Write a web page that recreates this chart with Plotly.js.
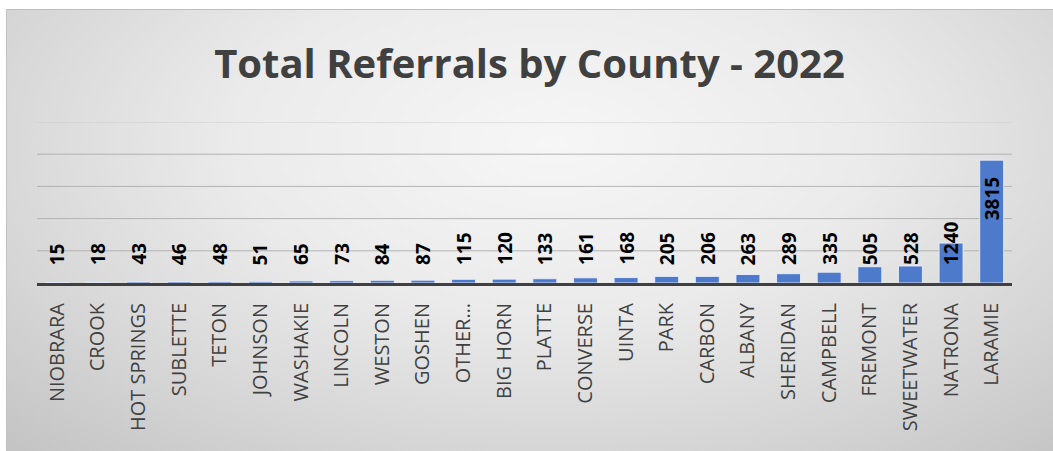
<!DOCTYPE html>
<html>
<head>
<meta charset="utf-8">
<script src="https://cdn.plot.ly/plotly-3.0.1.min.js"></script>
<style>
  html, body { margin: 0; padding: 0; background: #ffffff; }
  #frame {
    position: absolute; left: 6px; top: 9px; width: 1047px; height: 442px;
    background: radial-gradient(ellipse 75% 95% at 52% 30%, #f6f6f6 0%, #ebebeb 40%, #d5d5d5 75%, #c4c4c4 100%);
    border-top: 1px solid #bdbdbd; border-left: 1px solid #c2c2c2; box-sizing: border-box;
  }
  #chart { width: 1047px; height: 442px; position: absolute; left: -1px; top: -1px; }
</style>
</head>
<body>
<div id="frame"><div id="chart"></div></div>
<script>
const counties = ["NIOBRARA","CROOK","HOT SPRINGS","SUBLETTE","TETON","JOHNSON","WASHAKIE","LINCOLN","WESTON","GOSHEN","OTHER…","BIG HORN","PLATTE","CONVERSE","UINTA","PARK","CARBON","ALBANY","SHERIDAN","CAMPBELL","FREMONT","SWEETWATER","NATRONA","LARAMIE"];
const referrals = [15,18,43,46,48,51,65,73,84,87,115,120,133,161,168,205,206,263,289,335,505,528,1240,3815];
const gridValues = [1000, 2000, 3000, 4000, 5000];
const chartTitle = "Total Referrals by County - 2022";

const annotations = counties.map((c, i) => {
  const v = referrals[i];
  const inside = v > 2000;
  return {
    x: c, y: inside ? v : 0, xref: 'x', yref: 'y',
    text: '<b>' + v + '</b>', showarrow: false, textangle: -90,
    yanchor: inside ? 'top' : 'bottom', xanchor: 'center',
    yshift: inside ? -15 : 16,
    font: { family: 'Open Sans, sans-serif', size: 19, color: '#000000' }
  };
});

const gridShapes = gridValues.map(g => ({
  type: 'line', xref: 'paper', yref: 'y', x0: 0, x1: 1, y0: g, y1: g,
  line: { color: g === 5000 ? '#cdcdcd' : '#b3b3b3', width: 1 }, layer: 'below'
}));

const trace = {
  type: 'bar', x: counties, y: referrals,
  marker: { color: '#4d7acb', line: { color: 'rgba(235,240,250,0.9)', width: 1 } },
  hoverinfo: 'x+y'
};

const layout = {
  width: 1047, height: 442,
  paper_bgcolor: 'rgba(0,0,0,0)', plot_bgcolor: 'rgba(0,0,0,0)',
  margin: { l: 31, r: 41, t: 113, b: 168 },
  bargap: 0.41,
  showlegend: false,
  title: { text: chartTitle, x: 0.5, xanchor: 'center', y: 0.875, yref: 'container', yanchor: 'middle',
           font: { family: 'Open Sans, sans-serif', size: 40, color: '#404040', weight: 'bold' } },
  xaxis: { type: 'category', tickangle: -90, showline: true, linecolor: '#404040', linewidth: 3,
           ticks: '', ticklabelstandoff: 9, showgrid: false,
           tickfont: { family: 'Open Sans, sans-serif', size: 20, color: '#404040' } },
  yaxis: { range: [0, 5000], showgrid: false, showticklabels: false, zeroline: false, ticks: '' },
  shapes: gridShapes,
  annotations: annotations
};

Plotly.newPlot('chart', [trace], layout, { displayModeBar: false, staticPlot: true });
</script>
</body>
</html>
